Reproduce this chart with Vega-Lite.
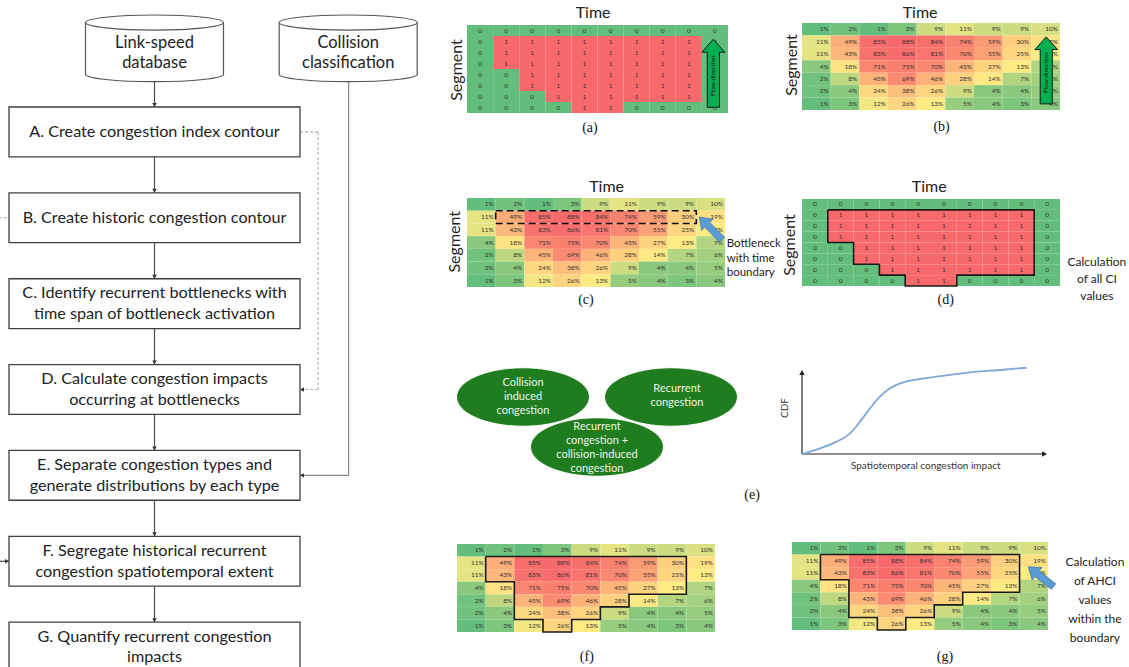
{
"$schema": "https://vega.github.io/schema/vega-lite/v6.json",
"width": 1129, "height": 667, "padding": 0, "autosize": {"type": "none"},
"background": "white",
"config": {"axis": {"disable": true}, "legend": {"disable": true}, "view": {"stroke": null}, "font": "Lato", "text": {"font": "Lato"}},
"resolve": {"scale": {"x": "independent", "y": "independent", "color": "independent"}},
"datasets": {
"ci": [
{"c":0,"r":0,"v":0},{"c":1,"r":0,"v":0},{"c":2,"r":0,"v":0},{"c":3,"r":0,"v":0},{"c":4,"r":0,"v":0},{"c":5,"r":0,"v":0},{"c":6,"r":0,"v":0},{"c":7,"r":0,"v":0},{"c":8,"r":0,"v":0},{"c":9,"r":0,"v":0},
{"c":0,"r":1,"v":0},{"c":1,"r":1,"v":1},{"c":2,"r":1,"v":1},{"c":3,"r":1,"v":1},{"c":4,"r":1,"v":1},{"c":5,"r":1,"v":1},{"c":6,"r":1,"v":1},{"c":7,"r":1,"v":1},{"c":8,"r":1,"v":1},{"c":9,"r":1,"v":0},
{"c":0,"r":2,"v":0},{"c":1,"r":2,"v":1},{"c":2,"r":2,"v":1},{"c":3,"r":2,"v":1},{"c":4,"r":2,"v":1},{"c":5,"r":2,"v":1},{"c":6,"r":2,"v":1},{"c":7,"r":2,"v":1},{"c":8,"r":2,"v":1},{"c":9,"r":2,"v":0},
{"c":0,"r":3,"v":0},{"c":1,"r":3,"v":1},{"c":2,"r":3,"v":1},{"c":3,"r":3,"v":1},{"c":4,"r":3,"v":1},{"c":5,"r":3,"v":1},{"c":6,"r":3,"v":1},{"c":7,"r":3,"v":1},{"c":8,"r":3,"v":1},{"c":9,"r":3,"v":0},
{"c":0,"r":4,"v":0},{"c":1,"r":4,"v":0},{"c":2,"r":4,"v":1},{"c":3,"r":4,"v":1},{"c":4,"r":4,"v":1},{"c":5,"r":4,"v":1},{"c":6,"r":4,"v":1},{"c":7,"r":4,"v":1},{"c":8,"r":4,"v":1},{"c":9,"r":4,"v":0},
{"c":0,"r":5,"v":0},{"c":1,"r":5,"v":0},{"c":2,"r":5,"v":1},{"c":3,"r":5,"v":1},{"c":4,"r":5,"v":1},{"c":5,"r":5,"v":1},{"c":6,"r":5,"v":1},{"c":7,"r":5,"v":1},{"c":8,"r":5,"v":1},{"c":9,"r":5,"v":0},
{"c":0,"r":6,"v":0},{"c":1,"r":6,"v":0},{"c":2,"r":6,"v":0},{"c":3,"r":6,"v":1},{"c":4,"r":6,"v":1},{"c":5,"r":6,"v":1},{"c":6,"r":6,"v":1},{"c":7,"r":6,"v":1},{"c":8,"r":6,"v":1},{"c":9,"r":6,"v":0},
{"c":0,"r":7,"v":0},{"c":1,"r":7,"v":0},{"c":2,"r":7,"v":0},{"c":3,"r":7,"v":0},{"c":4,"r":7,"v":1},{"c":5,"r":7,"v":1},{"c":6,"r":7,"v":0},{"c":7,"r":7,"v":0},{"c":8,"r":7,"v":0},{"c":9,"r":7,"v":0}
],
"pct": [
{"c":0,"r":0,"v":0.01},{"c":1,"r":0,"v":0.02},{"c":2,"r":0,"v":0.01},{"c":3,"r":0,"v":0.03},{"c":4,"r":0,"v":0.09},{"c":5,"r":0,"v":0.11},{"c":6,"r":0,"v":0.09},{"c":7,"r":0,"v":0.09},{"c":8,"r":0,"v":0.10},
{"c":0,"r":1,"v":0.11},{"c":1,"r":1,"v":0.49},{"c":2,"r":1,"v":0.85},{"c":3,"r":1,"v":0.88},{"c":4,"r":1,"v":0.84},{"c":5,"r":1,"v":0.74},{"c":6,"r":1,"v":0.59},{"c":7,"r":1,"v":0.30},{"c":8,"r":1,"v":0.19},
{"c":0,"r":2,"v":0.11},{"c":1,"r":2,"v":0.43},{"c":2,"r":2,"v":0.83},{"c":3,"r":2,"v":0.86},{"c":4,"r":2,"v":0.81},{"c":5,"r":2,"v":0.70},{"c":6,"r":2,"v":0.55},{"c":7,"r":2,"v":0.25},{"c":8,"r":2,"v":0.13},
{"c":0,"r":3,"v":0.04},{"c":1,"r":3,"v":0.18},{"c":2,"r":3,"v":0.71},{"c":3,"r":3,"v":0.75},{"c":4,"r":3,"v":0.70},{"c":5,"r":3,"v":0.45},{"c":6,"r":3,"v":0.27},{"c":7,"r":3,"v":0.13},{"c":8,"r":3,"v":0.07},
{"c":0,"r":4,"v":0.02},{"c":1,"r":4,"v":0.08},{"c":2,"r":4,"v":0.45},{"c":3,"r":4,"v":0.69},{"c":4,"r":4,"v":0.46},{"c":5,"r":4,"v":0.28},{"c":6,"r":4,"v":0.14},{"c":7,"r":4,"v":0.07},{"c":8,"r":4,"v":0.06},
{"c":0,"r":5,"v":0.02},{"c":1,"r":5,"v":0.04},{"c":2,"r":5,"v":0.24},{"c":3,"r":5,"v":0.38},{"c":4,"r":5,"v":0.26},{"c":5,"r":5,"v":0.09},{"c":6,"r":5,"v":0.04},{"c":7,"r":5,"v":0.04},{"c":8,"r":5,"v":0.05},
{"c":0,"r":6,"v":0.01},{"c":1,"r":6,"v":0.03},{"c":2,"r":6,"v":0.12},{"c":3,"r":6,"v":0.26},{"c":4,"r":6,"v":0.13},{"c":5,"r":6,"v":0.05},{"c":6,"r":6,"v":0.04},{"c":7,"r":6,"v":0.03},{"c":8,"r":6,"v":0.04}
],
"steps": [
{"step":"A","lines":["A. Create congestion index contour"]},
{"step":"B","lines":["B. Create historic congestion contour"]},
{"step":"C","lines":["C. Identify recurrent bottlenecks with","time span of bottleneck activation"]},
{"step":"D","lines":["D. Calculate congestion impacts","occurring at bottlenecks"]},
{"step":"E","lines":["E. Separate congestion types and","generate distributions by each type"]},
{"step":"F","lines":["F. Segregate historical recurrent","congestion spatiotemporal extent"]},
{"step":"G","lines":["G. Quantify recurrent congestion","impacts"]}
],
"stores": [
{"name":"link","lines":["Link-speed","database"]},
{"name":"collision","lines":["Collision","classification"]}
],
"outlineD": [
{"i":0,"c":1,"r":1},{"i":1,"c":9,"r":1},{"i":2,"c":9,"r":7},{"i":3,"c":6,"r":7},{"i":4,"c":6,"r":8},{"i":5,"c":4,"r":8},{"i":6,"c":4,"r":7},{"i":7,"c":3,"r":7},{"i":8,"c":3,"r":6},{"i":9,"c":2,"r":6},{"i":10,"c":2,"r":4},{"i":11,"c":1,"r":4},{"i":12,"c":1,"r":1}
],
"outlineFG": [
{"i":0,"c":1,"r":1},{"i":1,"c":8,"r":1},{"i":2,"c":8,"r":4},{"i":3,"c":6,"r":4},{"i":4,"c":6,"r":5},{"i":5,"c":5,"r":5},{"i":6,"c":5,"r":6},{"i":7,"c":4,"r":6},{"i":8,"c":4,"r":7},{"i":9,"c":3,"r":7},{"i":10,"c":3,"r":6},{"i":11,"c":2,"r":6},{"i":12,"c":2,"r":3},{"i":13,"c":1,"r":3},{"i":14,"c":1,"r":1}
],
"types": [
{"type":"collision","row":"top","lines":["Collision","induced","congestion"]},
{"type":"recurrent","row":"top","lines":["Recurrent","congestion"]},
{"type":"combined","row":"bottom","lines":["Recurrent","congestion +","collision-induced","congestion"]}
],
"cdf": [
{"impact":0,"cdf":0},{"impact":0.073,"cdf":0.068},{"impact":0.142,"cdf":0.147},{"impact":0.196,"cdf":0.246},{"impact":0.237,"cdf":0.385},{"impact":0.278,"cdf":0.544},{"impact":0.318,"cdf":0.682},{"impact":0.359,"cdf":0.782},{"impact":0.413,"cdf":0.853},{"impact":0.482,"cdf":0.893},{"impact":0.55,"cdf":0.92},{"impact":0.686,"cdf":0.972},{"impact":0.822,"cdf":1.003},{"impact":0.916,"cdf":1.027}
]
},
"layer": [
{"data":{"values":[{}]},"mark":{"type":"rule","color":"#4d4d4d","strokeWidth":1.2},"encoding":{"x":{"datum":0.5,"type":"quantitative","scale":{"domain":[0,1],"range":[9,300],"nice":false,"zero":false}},"y":{"datum":-0.295,"type":"quantitative","scale":{"domain":[0,1],"range":[107,192.87],"nice":false,"zero":false}},"y2":{"datum":6.0}}},
{"data":{"values":[{}]},"mark":{"type":"rule","color":"#8a8a8a","strokeWidth":1.2},"encoding":{"x":{"datum":1.167,"type":"quantitative","scale":{"domain":[0,1],"range":[9,300],"nice":false,"zero":false}},"y":{"datum":-0.295,"type":"quantitative","scale":{"domain":[0,1],"range":[107,192.87],"nice":false,"zero":false}},"y2":{"datum":4.29}}},
{"data":{"values":[{}]},"mark":{"type":"rule","color":"#8a8a8a","strokeWidth":1.2},"encoding":{"x":{"datum":1.167,"type":"quantitative","scale":{"domain":[0,1],"range":[9,300],"nice":false,"zero":false}},"x2":{"datum":1.0},"y":{"datum":4.29,"type":"quantitative","scale":{"domain":[0,1],"range":[107,192.87],"nice":false,"zero":false}}}},
{"data":{"values":[{}]},"mark":{"type":"rule","color":"#b0b0b0","strokeWidth":1.1,"strokeDash":[3,2]},"encoding":{"x":{"datum":1.0,"type":"quantitative","scale":{"domain":[0,1],"range":[9,300],"nice":false,"zero":false}},"x2":{"datum":1.062},"y":{"datum":0.29,"type":"quantitative","scale":{"domain":[0,1],"range":[107,192.87],"nice":false,"zero":false}}}},
{"data":{"values":[{}]},"mark":{"type":"rule","color":"#b0b0b0","strokeWidth":1.1,"strokeDash":[3,2]},"encoding":{"x":{"datum":1.062,"type":"quantitative","scale":{"domain":[0,1],"range":[9,300],"nice":false,"zero":false}},"y":{"datum":0.29,"type":"quantitative","scale":{"domain":[0,1],"range":[107,192.87],"nice":false,"zero":false}},"y2":{"datum":3.29}}},
{"data":{"values":[{}]},"mark":{"type":"rule","color":"#b0b0b0","strokeWidth":1.1,"strokeDash":[3,2]},"encoding":{"x":{"datum":1.062,"type":"quantitative","scale":{"domain":[0,1],"range":[9,300],"nice":false,"zero":false}},"x2":{"datum":1.0},"y":{"datum":3.29,"type":"quantitative","scale":{"domain":[0,1],"range":[107,192.87],"nice":false,"zero":false}}}},
{"data":{"values":[{}]},"mark":{"type":"rule","color":"#b0b0b0","strokeWidth":1.1,"strokeDash":[3,2]},"encoding":{"x":{"datum":-0.035,"type":"quantitative","scale":{"domain":[0,1],"range":[9,300],"nice":false,"zero":false}},"x2":{"datum":0},"y":{"datum":1.29,"type":"quantitative","scale":{"domain":[0,1],"range":[107,192.87],"nice":false,"zero":false}}}},
{"data":{"values":[{}]},"mark":{"type":"rule","color":"#4d4d4d","strokeWidth":1.2},"encoding":{"x":{"datum":-0.035,"type":"quantitative","scale":{"domain":[0,1],"range":[9,300],"nice":false,"zero":false}},"x2":{"datum":0},"y":{"datum":5.29,"type":"quantitative","scale":{"domain":[0,1],"range":[107,192.87],"nice":false,"zero":false}}}},
{"data":{"name":"stores"},"mark":{"type":"point","shape":"M-1,-0.374 A1,0.109 0 0 1 1,-0.374 L1,0.374 A1,0.109 0 0 1 -1,0.374 Z M-1,-0.374 A1,0.109 0 0 0 1,-0.374","size":19044,"filled":true,"fill":"#ffffff","stroke":"#555555","strokeWidth":1.2,"opacity":1},"encoding":{"x":{"field":"name","type":"nominal","scale":{"type":"point","domain":["link","collision"],"range":[154.5,348.2],"padding":0}},"y":{"datum":-0.683,"type":"quantitative","scale":{"domain":[0,1],"range":[107,192.87],"nice":false,"zero":false}}}},
{"data":{"name":"stores"},"mark":{"type":"text","fontSize":16.5,"lineHeight":20,"color":"#222222"},"encoding":{"x":{"field":"name","type":"nominal","scale":{"type":"point","domain":["link","collision"],"range":[154.5,348.2],"padding":0}},"y":{"datum":-0.742,"type":"quantitative","scale":{"domain":[0,1],"range":[107,192.87],"nice":false,"zero":false}},"text":{"field":"lines","type":"nominal"}}},
{"data":{"name":"steps"},"mark":{"type":"rect","fill":"#ffffff","stroke":"#404040","strokeWidth":1.3},"encoding":{"x":{"datum":0,"type":"quantitative","scale":{"domain":[0,1],"range":[9,300],"nice":false,"zero":false}},"x2":{"datum":1},"y":{"field":"step","type":"nominal","scale":{"type":"band","domain":["A","B","C","D","E","F","G"],"range":[107,672],"paddingInner":0.42,"paddingOuter":0}}}},
{"data":{"name":"steps"},"transform":[{"filter":"length(datum.lines) == 1"}],"mark":{"type":"text","fontSize":16.2,"lineHeight":20.6,"color":"#222222"},"encoding":{"x":{"datum":0.5,"type":"quantitative","scale":{"domain":[0,1],"range":[9,300],"nice":false,"zero":false}},"y":{"field":"step","type":"nominal","scale":{"type":"band","domain":["A","B","C","D","E","F","G"],"range":[107,672],"paddingInner":0.42,"paddingOuter":0}},"text":{"field":"lines","type":"nominal"}}},
{"data":{"name":"steps"},"transform":[{"filter":"length(datum.lines) == 2"}],"mark":{"type":"text","fontSize":16.2,"lineHeight":20.6,"dy":-10.3,"color":"#222222"},"encoding":{"x":{"datum":0.5,"type":"quantitative","scale":{"domain":[0,1],"range":[9,300],"nice":false,"zero":false}},"y":{"field":"step","type":"nominal","scale":{"type":"band","domain":["A","B","C","D","E","F","G"],"range":[107,672],"paddingInner":0.42,"paddingOuter":0}},"text":{"field":"lines","type":"nominal"}}},
{"data":{"name":"steps"},"mark":{"type":"point","shape":"M-1,-1.8 L1,-1.8 L0,0 Z","size":20,"filled":true,"fill":"#333333","stroke":null,"opacity":1},"encoding":{"x":{"datum":0.5,"type":"quantitative","scale":{"domain":[0,1],"range":[9,300],"nice":false,"zero":false}},"y":{"field":"step","type":"nominal","bandPosition":0,"scale":{"type":"band","domain":["A","B","C","D","E","F","G"],"range":[107,672],"paddingInner":0.42,"paddingOuter":0}}}},
{"data":{"values":[{"step":"D"},{"step":"E"}]},"mark":{"type":"point","shape":"M0,0 L1.8,-1 L1.8,1 Z","size":20,"filled":true,"fill":"#333333","stroke":null,"opacity":1},"encoding":{"x":{"datum":1.0,"type":"quantitative","scale":{"domain":[0,1],"range":[9,300],"nice":false,"zero":false}},"y":{"field":"step","type":"nominal","scale":{"type":"band","domain":["A","B","C","D","E","F","G"],"range":[107,672],"paddingInner":0.42,"paddingOuter":0}}}},
{"data":{"values":[{"step":"F"}]},"mark":{"type":"point","shape":"M0,0 L-1.8,-1 L-1.8,1 Z","size":20,"filled":true,"fill":"#333333","stroke":null,"opacity":1},"encoding":{"x":{"datum":0,"type":"quantitative","scale":{"domain":[0,1],"range":[9,300],"nice":false,"zero":false}},"y":{"field":"step","type":"nominal","scale":{"type":"band","domain":["A","B","C","D","E","F","G"],"range":[107,672],"paddingInner":0.42,"paddingOuter":0}}}},

{"data":{"name":"ci"},"mark":{"type":"rect"},"encoding":{"x":{"field":"c","type":"ordinal","scale":{"type":"band","range":[467,728],"paddingInner":0,"paddingOuter":0}},"y":{"field":"r","type":"ordinal","scale":{"type":"band","range":[25,113],"paddingInner":0,"paddingOuter":0}},"color":{"field":"v","type":"nominal","scale":{"domain":[0,1],"range":["#63be7b","#f8696b"]}}}},
{"data":{"name":"ci"},"mark":{"type":"text","fontSize":6.5,"color":"#333333"},"encoding":{"x":{"field":"c","type":"ordinal","scale":{"type":"band","range":[467,728],"paddingInner":0,"paddingOuter":0}},"y":{"field":"r","type":"ordinal","scale":{"type":"band","range":[25,113],"paddingInner":0,"paddingOuter":0}},"text":{"field":"v","type":"quantitative"}}},
{"data":{"values":[{}]},"mark":{"type":"point","shape":"M0,-1 L0.34,-0.62 L0.18,-0.62 L0.18,1 L-0.18,1 L-0.18,-0.62 L-0.34,-0.62 Z","size":4624,"filled":true,"fill":"#00b050","stroke":"#1a1a1a","strokeWidth":1,"opacity":1},"encoding":{"x":{"datum":9.44,"type":"quantitative","scale":{"domain":[0,10],"range":[467,728],"nice":false,"zero":false}},"y":{"datum":4.39,"type":"quantitative","scale":{"domain":[0,8],"range":[25,113],"nice":false,"zero":false}}}},
{"data":{"values":[{}]},"mark":{"type":"text","text":"Flow direction","angle":270,"fontSize":6.5,"color":"#111111"},"encoding":{"x":{"datum":9.44,"type":"quantitative","scale":{"domain":[0,10],"range":[467,728],"nice":false,"zero":false}},"y":{"datum":4.6,"type":"quantitative","scale":{"domain":[0,8],"range":[25,113],"nice":false,"zero":false}}}},
{"data":{"values":[{}]},"mark":{"type":"text","text":"Time","fontSize":16,"color":"#222222"},"encoding":{"x":{"datum":4.83,"type":"quantitative","scale":{"domain":[0,10],"range":[467,728],"nice":false,"zero":false}},"y":{"datum":-1.06,"type":"quantitative","scale":{"domain":[0,8],"range":[25,113],"nice":false,"zero":false}}}},
{"data":{"values":[{}]},"mark":{"type":"text","text":"Segment","angle":270,"fontSize":16,"color":"#222222"},"encoding":{"x":{"datum":-0.39,"type":"quantitative","scale":{"domain":[0,10],"range":[467,728],"nice":false,"zero":false}},"y":{"datum":4.09,"type":"quantitative","scale":{"domain":[0,8],"range":[25,113],"nice":false,"zero":false}}}},
{"data":{"values":[{}]},"mark":{"type":"text","text":"(a)","font":"Liberation Serif","fontSize":14,"color":"#111111"},"encoding":{"x":{"datum":4.71,"type":"quantitative","scale":{"domain":[0,10],"range":[467,728],"nice":false,"zero":false}},"y":{"datum":9.36,"type":"quantitative","scale":{"domain":[0,8],"range":[25,113],"nice":false,"zero":false}}}},

{"data":{"name":"pct"},"mark":{"type":"rect"},"encoding":{"x":{"field":"c","type":"ordinal","scale":{"type":"band","range":[802,1060],"paddingInner":0,"paddingOuter":0}},"y":{"field":"r","type":"ordinal","scale":{"type":"band","range":[23,110],"paddingInner":0,"paddingOuter":0}},"color":{"field":"v","type":"quantitative","scale":{"domain":[0.01,0.13,0.88],"range":["#63be7b","#ffeb84","#f8696b"],"interpolate":"rgb"}}}},
{"data":{"name":"pct"},"mark":{"type":"text","align":"right","dx":-2,"fontSize":6.5,"color":"#333333"},"encoding":{"x":{"field":"c","type":"ordinal","bandPosition":1,"scale":{"type":"band","range":[802,1060],"paddingInner":0,"paddingOuter":0}},"y":{"field":"r","type":"ordinal","scale":{"type":"band","range":[23,110],"paddingInner":0,"paddingOuter":0}},"text":{"field":"v","type":"quantitative","format":".0%"}}},
{"data":{"values":[{}]},"mark":{"type":"point","shape":"M0,-1 L0.34,-0.62 L0.18,-0.62 L0.18,1 L-0.18,1 L-0.18,-0.62 L-0.34,-0.62 Z","size":4489,"filled":true,"fill":"#00b050","stroke":"#1a1a1a","strokeWidth":1,"opacity":1},"encoding":{"x":{"datum":8.52,"type":"quantitative","scale":{"domain":[0,9],"range":[802,1060],"nice":false,"zero":false}},"y":{"datum":3.81,"type":"quantitative","scale":{"domain":[0,7],"range":[23,110],"nice":false,"zero":false}}}},
{"data":{"values":[{}]},"mark":{"type":"text","text":"Flow direction","angle":270,"fontSize":6.5,"color":"#111111"},"encoding":{"x":{"datum":8.52,"type":"quantitative","scale":{"domain":[0,9],"range":[802,1060],"nice":false,"zero":false}},"y":{"datum":4.0,"type":"quantitative","scale":{"domain":[0,7],"range":[23,110],"nice":false,"zero":false}}}},
{"data":{"values":[{}]},"mark":{"type":"text","text":"Time","fontSize":16,"color":"#222222"},"encoding":{"x":{"datum":4.12,"type":"quantitative","scale":{"domain":[0,9],"range":[802,1060],"nice":false,"zero":false}},"y":{"datum":-0.8,"type":"quantitative","scale":{"domain":[0,7],"range":[23,110],"nice":false,"zero":false}}}},
{"data":{"values":[{}]},"mark":{"type":"text","text":"Segment","angle":270,"fontSize":16,"color":"#222222"},"encoding":{"x":{"datum":-0.36,"type":"quantitative","scale":{"domain":[0,9],"range":[802,1060],"nice":false,"zero":false}},"y":{"datum":3.38,"type":"quantitative","scale":{"domain":[0,7],"range":[23,110],"nice":false,"zero":false}}}},
{"data":{"values":[{}]},"mark":{"type":"text","text":"(b)","font":"Liberation Serif","fontSize":14,"color":"#111111"},"encoding":{"x":{"datum":4.87,"type":"quantitative","scale":{"domain":[0,9],"range":[802,1060],"nice":false,"zero":false}},"y":{"datum":8.34,"type":"quantitative","scale":{"domain":[0,7],"range":[23,110],"nice":false,"zero":false}}}},

{"data":{"name":"pct"},"mark":{"type":"rect"},"encoding":{"x":{"field":"c","type":"ordinal","scale":{"type":"band","range":[467,725],"paddingInner":0,"paddingOuter":0}},"y":{"field":"r","type":"ordinal","scale":{"type":"band","range":[198,287],"paddingInner":0,"paddingOuter":0}},"color":{"field":"v","type":"quantitative","scale":{"domain":[0.01,0.13,0.88],"range":["#63be7b","#ffeb84","#f8696b"],"interpolate":"rgb"}}}},
{"data":{"name":"pct"},"mark":{"type":"text","align":"right","dx":-2,"fontSize":6.5,"color":"#333333"},"encoding":{"x":{"field":"c","type":"ordinal","bandPosition":1,"scale":{"type":"band","range":[467,725],"paddingInner":0,"paddingOuter":0}},"y":{"field":"r","type":"ordinal","scale":{"type":"band","range":[198,287],"paddingInner":0,"paddingOuter":0}},"text":{"field":"v","type":"quantitative","format":".0%"}}},
{"data":{"values":[{}]},"mark":{"type":"rect","fill":"#ffffff","fillOpacity":0,"stroke":"#111111","strokeWidth":1.6,"strokeDash":[7,4]},"encoding":{"x":{"datum":1,"type":"quantitative","scale":{"domain":[0,9],"range":[467,725],"nice":false,"zero":false}},"x2":{"datum":8},"y":{"datum":1,"type":"quantitative","scale":{"domain":[0,7],"range":[198,287],"nice":false,"zero":false}},"y2":{"datum":2}}},
{"data":{"values":[{}]},"mark":{"type":"point","shape":"M0,-1 L0.5,-0.3 L0.22,-0.3 L0.22,1 L-0.22,1 L-0.22,-0.3 L-0.5,-0.3 Z","size":1024,"angle":-45,"filled":true,"fill":"#5b9bd5","stroke":"#4a7fb5","strokeWidth":0.8,"opacity":1},"encoding":{"x":{"datum":8.5,"type":"quantitative","scale":{"domain":[0,9],"range":[467,725],"nice":false,"zero":false}},"y":{"datum":2.38,"type":"quantitative","scale":{"domain":[0,7],"range":[198,287],"nice":false,"zero":false}}}},
{"data":{"values":[{}]},"mark":{"type":"text","text":["Bottleneck","with time","boundary"],"align":"left","fontSize":11.5,"lineHeight":14.5,"color":"#222222"},"encoding":{"x":{"datum":9.06,"type":"quantitative","scale":{"domain":[0,9],"range":[467,725],"nice":false,"zero":false}},"y":{"datum":3.62,"type":"quantitative","scale":{"domain":[0,7],"range":[198,287],"nice":false,"zero":false}}}},
{"data":{"values":[{}]},"mark":{"type":"text","text":"Time","fontSize":16,"color":"#222222"},"encoding":{"x":{"datum":4.87,"type":"quantitative","scale":{"domain":[0,9],"range":[467,725],"nice":false,"zero":false}},"y":{"datum":-0.89,"type":"quantitative","scale":{"domain":[0,7],"range":[198,287],"nice":false,"zero":false}}}},
{"data":{"values":[{}]},"mark":{"type":"text","text":"Segment","angle":270,"fontSize":16,"color":"#222222"},"encoding":{"x":{"datum":-0.42,"type":"quantitative","scale":{"domain":[0,9],"range":[467,725],"nice":false,"zero":false}},"y":{"datum":3.44,"type":"quantitative","scale":{"domain":[0,7],"range":[198,287],"nice":false,"zero":false}}}},
{"data":{"values":[{}]},"mark":{"type":"text","text":"(c)","font":"Liberation Serif","fontSize":14,"color":"#111111"},"encoding":{"x":{"datum":4.15,"type":"quantitative","scale":{"domain":[0,9],"range":[467,725],"nice":false,"zero":false}},"y":{"datum":8.03,"type":"quantitative","scale":{"domain":[0,7],"range":[198,287],"nice":false,"zero":false}}}},

{"data":{"name":"ci"},"mark":{"type":"rect"},"encoding":{"x":{"field":"c","type":"ordinal","scale":{"type":"band","range":[802,1060],"paddingInner":0,"paddingOuter":0}},"y":{"field":"r","type":"ordinal","scale":{"type":"band","range":[199,286],"paddingInner":0,"paddingOuter":0}},"color":{"field":"v","type":"nominal","scale":{"domain":[0,1],"range":["#63be7b","#f8696b"]}}}},
{"data":{"name":"ci"},"mark":{"type":"text","fontSize":6.5,"color":"#333333"},"encoding":{"x":{"field":"c","type":"ordinal","scale":{"type":"band","range":[802,1060],"paddingInner":0,"paddingOuter":0}},"y":{"field":"r","type":"ordinal","scale":{"type":"band","range":[199,286],"paddingInner":0,"paddingOuter":0}},"text":{"field":"v","type":"quantitative"}}},
{"data":{"name":"outlineD"},"mark":{"type":"line","color":"#1a1a1a","strokeWidth":1.6},"encoding":{"x":{"field":"c","type":"quantitative","scale":{"domain":[0,10],"range":[802,1060],"nice":false,"zero":false}},"y":{"field":"r","type":"quantitative","scale":{"domain":[0,8],"range":[199,286],"nice":false,"zero":false}},"order":{"field":"i","type":"quantitative"}}},
{"data":{"values":[{}]},"mark":{"type":"text","text":["Calculation","of all CI","values"],"fontSize":12,"lineHeight":17,"color":"#222222"},"encoding":{"x":{"datum":11.43,"type":"quantitative","scale":{"domain":[0,10],"range":[802,1060],"nice":false,"zero":false}},"y":{"datum":5.79,"type":"quantitative","scale":{"domain":[0,8],"range":[199,286],"nice":false,"zero":false}}}},
{"data":{"values":[{}]},"mark":{"type":"text","text":"Time","fontSize":16,"color":"#222222"},"encoding":{"x":{"datum":4.93,"type":"quantitative","scale":{"domain":[0,10],"range":[802,1060],"nice":false,"zero":false}},"y":{"datum":-1.13,"type":"quantitative","scale":{"domain":[0,8],"range":[199,286],"nice":false,"zero":false}}}},
{"data":{"values":[{}]},"mark":{"type":"text","text":"Segment","angle":270,"fontSize":16,"color":"#222222"},"encoding":{"x":{"datum":-0.47,"type":"quantitative","scale":{"domain":[0,10],"range":[802,1060],"nice":false,"zero":false}},"y":{"datum":4.23,"type":"quantitative","scale":{"domain":[0,8],"range":[199,286],"nice":false,"zero":false}}}},
{"data":{"values":[{}]},"mark":{"type":"text","text":"(d)","font":"Liberation Serif","fontSize":14,"color":"#111111"},"encoding":{"x":{"datum":5.57,"type":"quantitative","scale":{"domain":[0,10],"range":[802,1060],"nice":false,"zero":false}},"y":{"datum":9.29,"type":"quantitative","scale":{"domain":[0,8],"range":[199,286],"nice":false,"zero":false}}}},

{"data":{"name":"types"},"mark":{"type":"point","shape":"M-1,0 A1,0.44 0 1 1 1,0 A1,0.44 0 1 1 -1,0 Z","size":17689,"filled":true,"fill":"#1f7d1f","stroke":"#ffffff","strokeWidth":1,"opacity":1},"encoding":{"x":{"field":"type","type":"nominal","scale":{"type":"point","domain":["collision","combined","recurrent"],"range":[523,671],"padding":0}},"y":{"field":"row","type":"nominal","scale":{"type":"point","domain":["top","bottom"],"range":[397,447],"padding":0}}}},
{"data":{"name":"types"},"transform":[{"filter":"datum.type == 'collision'"}],"mark":{"type":"text","fontSize":11,"lineHeight":14.2,"dy":-14,"color":"#eef4ea"},"encoding":{"x":{"field":"type","type":"nominal","scale":{"type":"point","domain":["collision","combined","recurrent"],"range":[523,671],"padding":0}},"y":{"field":"row","type":"nominal","scale":{"type":"point","domain":["top","bottom"],"range":[397,447],"padding":0}},"text":{"field":"lines","type":"nominal"}}},
{"data":{"name":"types"},"transform":[{"filter":"datum.type == 'recurrent'"}],"mark":{"type":"text","fontSize":11,"lineHeight":14.2,"dy":-8,"dx":6,"color":"#eef4ea"},"encoding":{"x":{"field":"type","type":"nominal","scale":{"type":"point","domain":["collision","combined","recurrent"],"range":[523,671],"padding":0}},"y":{"field":"row","type":"nominal","scale":{"type":"point","domain":["top","bottom"],"range":[397,447],"padding":0}},"text":{"field":"lines","type":"nominal"}}},
{"data":{"name":"types"},"transform":[{"filter":"datum.type == 'combined'"}],"mark":{"type":"text","fontSize":11,"lineHeight":14.2,"dy":-20.5,"color":"#eef4ea"},"encoding":{"x":{"field":"type","type":"nominal","scale":{"type":"point","domain":["collision","combined","recurrent"],"range":[523,671],"padding":0}},"y":{"field":"row","type":"nominal","scale":{"type":"point","domain":["top","bottom"],"range":[397,447],"padding":0}},"text":{"field":"lines","type":"nominal"}}},
{"data":{"values":[{}]},"mark":{"type":"rule","color":"#222222","strokeWidth":1.2},"encoding":{"x":{"datum":0,"type":"quantitative","scale":{"domain":[0,1],"range":[802,1047],"nice":false,"zero":false}},"x2":{"datum":0.99},"y":{"datum":0,"type":"quantitative","scale":{"domain":[0,1],"range":[454,370],"nice":false,"zero":false}}}},
{"data":{"values":[{}]},"mark":{"type":"rule","color":"#222222","strokeWidth":1.2},"encoding":{"x":{"datum":0,"type":"quantitative","scale":{"domain":[0,1],"range":[802,1047],"nice":false,"zero":false}},"y":{"datum":0,"type":"quantitative","scale":{"domain":[0,1],"range":[454,370],"nice":false,"zero":false}},"y2":{"datum":0.97}}},
{"data":{"values":[{}]},"mark":{"type":"point","shape":"M0,0 L-1.8,-1 L-1.8,1 Z","size":30,"filled":true,"fill":"#222222","stroke":null,"opacity":1},"encoding":{"x":{"datum":1,"type":"quantitative","scale":{"domain":[0,1],"range":[802,1047],"nice":false,"zero":false}},"y":{"datum":0,"type":"quantitative","scale":{"domain":[0,1],"range":[454,370],"nice":false,"zero":false}}}},
{"data":{"values":[{}]},"mark":{"type":"point","shape":"M0,0 L-1,1.8 L1,1.8 Z","size":30,"filled":true,"fill":"#222222","stroke":null,"opacity":1},"encoding":{"x":{"datum":0,"type":"quantitative","scale":{"domain":[0,1],"range":[802,1047],"nice":false,"zero":false}},"y":{"datum":1,"type":"quantitative","scale":{"domain":[0,1],"range":[454,370],"nice":false,"zero":false}}}},
{"data":{"name":"cdf"},"mark":{"type":"line","color":"#7fa6d8","strokeWidth":1.8,"interpolate":"monotone"},"encoding":{"x":{"field":"impact","type":"quantitative","scale":{"domain":[0,1],"range":[802,1047],"nice":false,"zero":false}},"y":{"field":"cdf","type":"quantitative","scale":{"domain":[0,1],"range":[454,370],"nice":false,"zero":false}}}},
{"data":{"values":[{}]},"mark":{"type":"text","text":"CDF","angle":270,"fontSize":10,"color":"#333333"},"encoding":{"x":{"datum":-0.069,"type":"quantitative","scale":{"domain":[0,1],"range":[802,1047],"nice":false,"zero":false}},"y":{"datum":0.548,"type":"quantitative","scale":{"domain":[0,1],"range":[454,370],"nice":false,"zero":false}}}},
{"data":{"values":[{}]},"mark":{"type":"text","text":"Spatiotemporal congestion impact","fontSize":10,"color":"#333333"},"encoding":{"x":{"datum":0.505,"type":"quantitative","scale":{"domain":[0,1],"range":[802,1047],"nice":false,"zero":false}},"y":{"datum":-0.143,"type":"quantitative","scale":{"domain":[0,1],"range":[454,370],"nice":false,"zero":false}}}},
{"data":{"values":[{}]},"mark":{"type":"text","text":"(e)","font":"Liberation Serif","fontSize":14,"color":"#111111"},"encoding":{"x":{"datum":-0.204,"type":"quantitative","scale":{"domain":[0,1],"range":[802,1047],"nice":false,"zero":false}},"y":{"datum":-0.488,"type":"quantitative","scale":{"domain":[0,1],"range":[454,370],"nice":false,"zero":false}}}},

{"data":{"name":"pct"},"mark":{"type":"rect"},"encoding":{"x":{"field":"c","type":"ordinal","scale":{"type":"band","range":[457,715],"paddingInner":0,"paddingOuter":0}},"y":{"field":"r","type":"ordinal","scale":{"type":"band","range":[544,632],"paddingInner":0,"paddingOuter":0}},"color":{"field":"v","type":"quantitative","scale":{"domain":[0.01,0.13,0.88],"range":["#63be7b","#ffeb84","#f8696b"],"interpolate":"rgb"}}}},
{"data":{"name":"pct"},"mark":{"type":"text","align":"right","dx":-2,"fontSize":6.5,"color":"#333333"},"encoding":{"x":{"field":"c","type":"ordinal","bandPosition":1,"scale":{"type":"band","range":[457,715],"paddingInner":0,"paddingOuter":0}},"y":{"field":"r","type":"ordinal","scale":{"type":"band","range":[544,632],"paddingInner":0,"paddingOuter":0}},"text":{"field":"v","type":"quantitative","format":".0%"}}},
{"data":{"name":"outlineFG"},"mark":{"type":"line","color":"#1a1a1a","strokeWidth":1.6},"encoding":{"x":{"field":"c","type":"quantitative","scale":{"domain":[0,9],"range":[457,715],"nice":false,"zero":false}},"y":{"field":"r","type":"quantitative","scale":{"domain":[0,7],"range":[544,632],"nice":false,"zero":false}},"order":{"field":"i","type":"quantitative"}}},
{"data":{"values":[{}]},"mark":{"type":"text","text":"(f)","font":"Liberation Serif","fontSize":14,"color":"#111111"},"encoding":{"x":{"datum":4.53,"type":"quantitative","scale":{"domain":[0,9],"range":[457,715],"nice":false,"zero":false}},"y":{"datum":8.99,"type":"quantitative","scale":{"domain":[0,7],"range":[544,632],"nice":false,"zero":false}}}},

{"data":{"name":"pct"},"mark":{"type":"rect"},"encoding":{"x":{"field":"c","type":"ordinal","scale":{"type":"band","range":[792,1048],"paddingInner":0,"paddingOuter":0}},"y":{"field":"r","type":"ordinal","scale":{"type":"band","range":[542,630],"paddingInner":0,"paddingOuter":0}},"color":{"field":"v","type":"quantitative","scale":{"domain":[0.01,0.13,0.88],"range":["#63be7b","#ffeb84","#f8696b"],"interpolate":"rgb"}}}},
{"data":{"name":"pct"},"mark":{"type":"text","align":"right","dx":-2,"fontSize":6.5,"color":"#333333"},"encoding":{"x":{"field":"c","type":"ordinal","bandPosition":1,"scale":{"type":"band","range":[792,1048],"paddingInner":0,"paddingOuter":0}},"y":{"field":"r","type":"ordinal","scale":{"type":"band","range":[542,630],"paddingInner":0,"paddingOuter":0}},"text":{"field":"v","type":"quantitative","format":".0%"}}},
{"data":{"name":"outlineFG"},"mark":{"type":"line","color":"#1a1a1a","strokeWidth":1.6},"encoding":{"x":{"field":"c","type":"quantitative","scale":{"domain":[0,9],"range":[792,1048],"nice":false,"zero":false}},"y":{"field":"r","type":"quantitative","scale":{"domain":[0,7],"range":[542,630],"nice":false,"zero":false}},"order":{"field":"i","type":"quantitative"}}},
{"data":{"values":[{}]},"mark":{"type":"point","shape":"M0,-1 L0.5,-0.3 L0.22,-0.3 L0.22,1 L-0.22,1 L-0.22,-0.3 L-0.5,-0.3 Z","size":1024,"angle":-52,"filled":true,"fill":"#5b9bd5","stroke":"#4a7fb5","strokeWidth":0.8,"opacity":1},"encoding":{"x":{"datum":8.75,"type":"quantitative","scale":{"domain":[0,9],"range":[792,1048],"nice":false,"zero":false}},"y":{"datum":2.76,"type":"quantitative","scale":{"domain":[0,7],"range":[542,630],"nice":false,"zero":false}}}},
{"data":{"values":[{}]},"mark":{"type":"text","text":["Calculation","of AHCI","values","within the","boundary"],"fontSize":12,"lineHeight":19,"color":"#222222"},"encoding":{"x":{"datum":10.65,"type":"quantitative","scale":{"domain":[0,9],"range":[792,1048],"nice":false,"zero":false}},"y":{"datum":1.59,"type":"quantitative","scale":{"domain":[0,7],"range":[542,630],"nice":false,"zero":false}}}},
{"data":{"values":[{}]},"mark":{"type":"text","text":"(g)","font":"Liberation Serif","fontSize":14,"color":"#111111"},"encoding":{"x":{"datum":5.38,"type":"quantitative","scale":{"domain":[0,9],"range":[792,1048],"nice":false,"zero":false}},"y":{"datum":9.15,"type":"quantitative","scale":{"domain":[0,7],"range":[542,630],"nice":false,"zero":false}}}}
]
}
